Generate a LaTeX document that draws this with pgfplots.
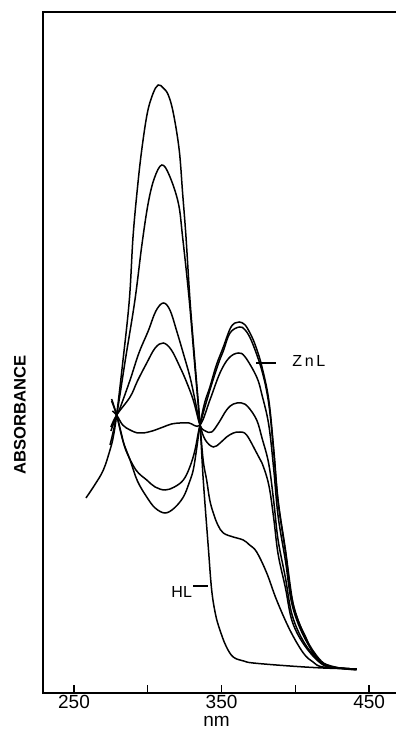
\documentclass[border=0pt]{standalone}
\usepackage{fontspec}
\setmainfont{Liberation Sans}
\usepackage{pgfplots}
\pgfplotsset{compat=1.18}
\pgfplotsset{curve/.style={black, line width=0.75pt, smooth, tension=0.6, mark=none, solid}}
\begin{document}
\begin{tikzpicture}
\path[use as bounding box] (-21.5pt,-18pt) rectangle (176.5pt,346.5pt);
\begin{axis}[
  at={(0,0)}, anchor=south west,
  scale only axis, width=176.5pt, height=340.5pt,
  xmin=229, xmax=468.2, ymin=0, ymax=681,
  axis line style={draw=none},
  xtick={250,350,450}, minor xtick={300,400},
  xtick pos=left, ytick=\empty,
  tick align=inside, major tick length=4pt, minor tick length=4pt,
  tick style={black, line width=0.7pt},
  xticklabel style={font=\fontsize{9.5}{11}\selectfont, inner sep=1pt},
  /pgf/number format/assume math mode=true,
  /pgf/number format/1000 sep={},
  xlabel={nm},
  xlabel style={at={(axis description cs:0.4915,0)}, anchor=base, yshift=-16.5pt, font=\fontsize{9.5}{11}\selectfont},
  ylabel={ABSORBANCE},
  ylabel style={at={(axis description cs:0,0.408)}, anchor=center, yshift=11.5pt, font=\bfseries\fontsize{8.3}{10}\selectfont},
  clip=false,
]
\draw[line width=0.8pt] (rel axis cs:1,1) -- (rel axis cs:0,1) -- (rel axis cs:0,0) -- (rel axis cs:1,0);
% HL
\addplot[curve] coordinates {(258.1,195) (264,208) (269.9,223) (274.4,243) (276.6,256) (278.9,278) (283,330) (287.5,393) (290,456) (293,505) (295.9,543) (299.7,580) (303.7,600) (307.1,608) (310.5,605) (313.9,598) (317.3,580) (321.3,543) (323.6,500) (325.9,456) (328.6,393) (332,330) (335.4,268) (337.6,213) (341,146) (343.3,103) (346,78) (348.9,63) (353,47) (357.9,36) (365,32) (371.5,30) (396.3,27) (418.9,25) (441.5,24)};
% 2
\addplot[curve] coordinates {(274.4,248) (278.9,278) (285,335) (291.3,393) (296,448) (300.3,490) (304.5,515) (309.5,528) (314.5,518) (320.7,490) (323.6,456) (328.1,393) (332,325) (335.4,268) (337.6,232) (339.9,213) (342,193) (344.4,180) (347.5,168) (351.2,160) (357.9,156) (364.7,153) (369,148) (373.8,141) (380.6,120) (387.3,93) (396.3,63) (405.4,40) (412,31) (418.9,26) (441.5,24)};
% 3
\addplot[curve] coordinates {(275,262) (278.9,278) (281.2,285) (288,313) (294,340) (300.3,362) (305.5,382) (310.5,390) (315,383) (319.6,362) (324,340) (328.6,316) (332,293) (335.4,268) (339,253) (344.4,246) (349,250) (353.4,256) (358,260) (362.5,261) (367,258) (373.8,240) (377.4,230) (382,208) (385.4,174) (388.3,139) (393.3,105) (398,71) (407,46) (418.9,28) (430,25) (441.5,24)};
% 4
\addplot[curve] coordinates {(275,266) (278.9,278) (288,296) (293,312) (299.3,330) (305,345) (310.5,350) (316,343) (321.8,326) (326,312) (330.8,293) (335.4,268) (339,262) (343.3,261) (348,270) (353.4,283) (358,289) (363.6,290) (368,286) (373.8,273) (377.4,255) (382,229) (385.4,191) (388.3,153) (393.3,115) (398,77) (407,48) (418.9,29) (430,25) (441.5,24)};
% 5
\addplot[curve] coordinates {(276,282) (278.9,278) (283,268) (288,263) (293,260) (297,260) (303,262) (310.5,266) (316,269) (321.8,270) (328,270) (335.4,268) (342.1,293) (348.9,320) (355,335) (361.3,340) (366,336) (373.8,316) (377.4,298) (382,268) (385.4,223) (388.3,177) (393.3,132) (398,87) (407,53) (418.9,29) (430,25) (441.5,24)};
% 6
\addplot[curve] coordinates {(275.5,292) (278.9,278) (282,260) (285.1,243) (292,223) (299.3,213) (305,206) (311.7,203) (318,206) (324.1,213) (328.5,226) (332,243) (335.4,268) (342.1,303) (348,330) (351.2,342) (355.7,360) (362,366) (366,363) (370.6,351) (377.4,322) (382,289) (385.4,240) (388.3,191) (393.3,141) (398,92) (407,55) (418.9,30) (430,25) (441.5,24)};
% ZnL
\addplot[curve] coordinates {(275.5,294) (278.9,278) (283,253) (288,233) (293,212) (299.3,196) (305,185) (311.7,180) (318,185) (324.1,196) (328,210) (330.8,223) (333,243) (335.4,268) (338.5,290) (342.1,306) (346.5,328) (351.2,346) (355.7,364) (359,370) (362,371) (366,368) (370.6,356) (374,343) (377.4,326) (382,293) (385.4,243) (388.3,193) (393.3,143) (398,93) (402,72) (407,56) (412,40) (418.9,30) (430,25) (441.5,23)};
\draw[line width=0.7pt] (axis cs:373.6,330) -- (axis cs:387.2,330);
\node[anchor=west, inner sep=0pt, font=\fontsize{8}{10}\selectfont] at (axis cs:397.7,332) {Z\,n\,L};
\node[anchor=center, inner sep=0pt, font=\fontsize{8}{10}\selectfont] at (axis cs:323,101) {HL};
\draw[line width=0.8pt] (axis cs:330.8,107) -- (axis cs:341,107);
\end{axis}
\end{tikzpicture}
\end{document}
